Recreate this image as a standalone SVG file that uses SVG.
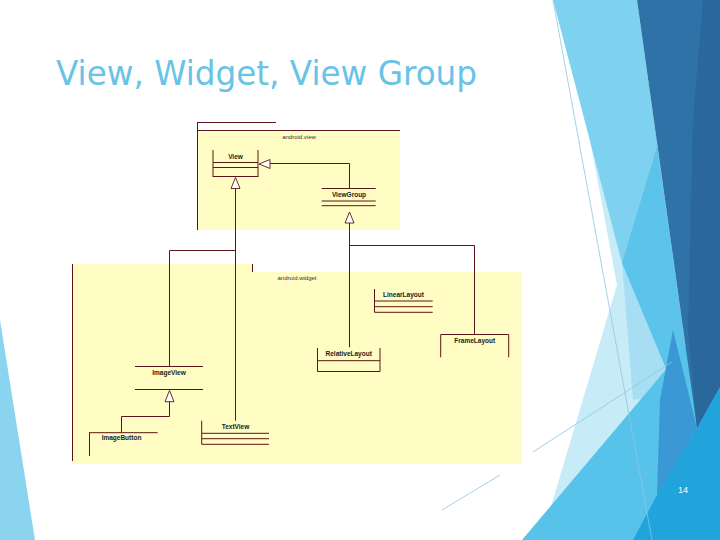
<svg xmlns="http://www.w3.org/2000/svg" width="720" height="540" viewBox="0 0 720 540">
<style>
.ln{fill:none;stroke:#5a1616;stroke-width:1}
.tri{fill:#ffffff;stroke:#5a1616;stroke-width:0.9}
.pkg{fill:#fffcc4}
.cls{font-family:"Liberation Sans","DejaVu Sans",sans-serif;font-size:6.5px;font-weight:bold;fill:#222;text-anchor:middle}
.plab{font-family:"Liberation Sans","DejaVu Sans",sans-serif;font-size:6px;fill:#333;text-anchor:middle}
.thin{fill:none;stroke:#8cc8de;stroke-width:0.8}
</style>
<rect width="720" height="540" fill="#ffffff"/>
<g id="decoration">
<polygon points="0,320 35,540 0,540" fill="#8ad4f0"/>
<polygon points="590,140 680,300 700,540 541,540 617,285" fill="#c8ebf8"/>
<polygon points="553,0 637,0 697,428 672,383 622,263" fill="#7fd1f0"/>
<polygon points="622,263 680,392 633,400" fill="#a8def3"/>
<polygon points="657,147 697,428 672,383 622,263" fill="#5cc4eb"/>
<polygon points="522,540 690,341 720,330 720,540" fill="#57c2ea"/>
<polygon points="673,330 697,428 657,495 660,400" fill="#3a98d4"/>
<polygon points="637,0 720,0 720,387 697,428" fill="#2f72a7"/>
<polygon points="703,0 720,0 720,387 697,428 688,330 693,120" fill="#2a689c"/>
<polygon points="697,428 720,387 720,540 633,540 657,495" fill="#21a4db"/>
<line class="thin" x1="553" y1="0" x2="652" y2="540"/>
<line class="thin" x1="533" y1="452" x2="672" y2="362"/>
<line class="thin" x1="442" y1="510" x2="500" y2="475"/>
</g>
<text id="title" x="56" y="85" font-family="DejaVu Sans, Verdana, sans-serif" font-size="33" fill="#68c3e6" textLength="421" lengthAdjust="spacingAndGlyphs">View, Widget, View Group</text>
<text id="page" x="683" y="493" font-family="Liberation Sans, sans-serif" font-size="9" fill="#ffffff" text-anchor="middle">14</text>
<g id="pkg-android-view">
<rect class="pkg" x="197" y="130" width="203" height="100"/>
<path class="ln" d="M197,122.5 H276 M197,130.5 H400 M197.5,122 V230"/>
<text class="plab" x="299" y="139">android.view</text>
</g>
<g id="pkg-android-widget">
<rect class="pkg" x="72" y="264" width="180" height="8"/>
<rect class="pkg" x="72" y="272" width="450" height="192"/>
<path class="ln" d="M72.5,264 V461 M252.5,264 V272"/>
<text class="plab" x="297" y="280">android.widget</text>
</g>
<g id="connectors">
<path class="ln" d="M349.5,188.5 V163.5 H270"/>
<path class="ln" d="M235.5,188.5 V420.7 M235.5,250.5 H169.5 V366"/>
<path class="ln" d="M349.5,223 V347.3 M349.5,245.5 H474.5 V334.3"/>
<path class="ln" d="M169.5,401.7 V416.5 H121.5 V432.7"/>
<polygon class="tri" points="259,164 270,159.5 270,168.5"/>
<polygon class="tri" points="235.5,177.5 240,188.5 231,188.5"/>
<polygon class="tri" points="349.5,212 354,223 345,223"/>
<polygon class="tri" points="169.5,390.5 174,401.7 165,401.7"/>
</g>
<g id="View">
<path class="ln" d="M213,150 V177 M258,150 V177 M213,162.5 H258 M213,167.5 H258 M213,176.5 H258"/>
<text class="cls" x="235.5" y="158.5">View</text>
</g>
<g id="ViewGroup">
<path class="ln" d="M321.7,188.5 H375.7 M321.7,201 H375.7 M321.7,205.7 H375.7"/>
<text class="cls" x="349" y="197">ViewGroup</text>
</g>
<g id="ImageView">
<path class="ln" d="M135,366.5 H203 M135,389.5 H203"/>
<text class="cls" x="169" y="375">ImageView</text>
</g>
<g id="ImageButton">
<path class="ln" d="M89,432.7 H157.7 M89.5,432.7 V456"/>
<text class="cls" x="121.5" y="440">ImageButton</text>
</g>
<g id="TextView">
<path class="ln" d="M201.7,420.7 V444.3 M201.7,433.3 H269 M201.7,438.7 H269 M201.7,444.3 H269"/>
<text class="cls" x="235.5" y="429">TextView</text>
</g>
<g id="LinearLayout">
<path class="ln" d="M374.5,289 V312.3 M374.5,301 H432.7 M374.5,306.7 H432.7 M374.5,312.3 H432.7"/>
<text class="cls" x="403.5" y="297">LinearLayout</text>
</g>
<g id="FrameLayout">
<path class="ln" d="M440.7,357.3 V334.5 H508.7 V357.3"/>
<text class="cls" x="474.7" y="343">FrameLayout</text>
</g>
<g id="RelativeLayout">
<path class="ln" d="M317.5,348 V371.7 M380,348 V371.7 M317.5,360.7 H380 M317.5,371.5 H380"/>
<text class="cls" x="348.7" y="356">RelativeLayout</text>
</g>
</svg>
